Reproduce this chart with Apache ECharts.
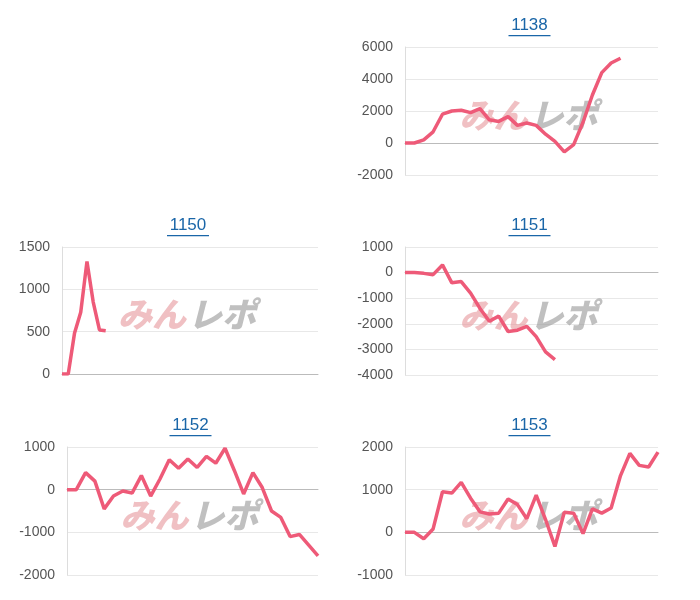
<!DOCTYPE html>
<html><head><meta charset="utf-8">
<script src="https://cdn.jsdelivr.net/npm/echarts@6/dist/echarts.min.js"></script>
<style>html,body{margin:0;background:#fff}#c{width:700px;height:600px}</style>
</head><body><div id="c"></div>
<script>
var chart = echarts.init(document.getElementById("c"));

const days = Array.from({ length: 28 }, (_, i) => String(i + 1));
const days1150 = Array.from({ length: 42 }, (_, i) => String(i + 1));
const titles = ["1138", "1150", "1151", "1152", "1153"];
const v1138 = [0, 0, 200, 700, 1800, 2000, 2050, 1900, 2150, 1450, 1350, 1650, 1100, 1250, 1100, 550, 100, -550, -100, 1300, 3000, 4400, 5000, 5300];
const v1150 = [0, 0, 480, 730, 1330, 850, 520, 510];
const v1151 = [0, 0, -30, -80, 300, -400, -350, -800, -1400, -1900, -1700, -2300, -2250, -2100, -2500, -3100, -3400];
const v1152 = [0, 0, 400, 200, -450, -150, -30, -80, 330, -150, 250, 700, 500, 720, 520, 780, 620, 970, 450, -100, 400, 50, -500, -650, -1100, -1050, -1300, -1550];
const v1153 = [0, 0, -150, 80, 950, 920, 1170, 800, 480, 430, 450, 780, 650, 320, 870, 300, -330, 470, 450, -30, 550, 450, 570, 1330, 1850, 1570, 1530, 1880];
const yRanges = [[-2000, 6000, 2000], [0, 1500, 500], [-4000, 1000, 1000], [-2000, 1000, 1000], [-1000, 2000, 1000]];
const allValues = [v1138, v1150, v1151, v1152, v1153];
const allDays = [days, days1150, days, days, days];

// panel boxes: left, top, right edge, bottom
const boxes = [[405, 47, 658, 175], [62, 247, 318, 374], [405, 247, 658, 375], [67, 447, 318, 575], [405, 447, 658, 575]];

var grid = [], xAxis = [], yAxis = [], series = [], graphic = [];
boxes.forEach(function (b, i) {
  grid.push({ left: b[0], top: b[1], width: b[2] - b[0], height: b[3] - b[1] });
  xAxis.push({
    gridIndex: i, type: "category", data: allDays[i], boundaryGap: false,
    axisLine: { onZero: true, lineStyle: { color: "#bbb" } },
    axisTick: { show: false }, axisLabel: { show: false }
  });
  yAxis.push({
    gridIndex: i, type: "value", min: yRanges[i][0], max: yRanges[i][1], interval: yRanges[i][2],
    axisLine: { show: true, lineStyle: { color: "#ddd" } },
    axisTick: { show: false },
    axisLabel: { color: "#555", fontSize: 14, fontFamily: "Arial, Liberation Sans", margin: 12, formatter: function (v) { return String(v); } },
    splitLine: { lineStyle: { color: "#e8e8e8" } }
  });
  series.push({
    type: "line", xAxisIndex: i, yAxisIndex: i, data: allValues[i], showSymbol: false,
    lineStyle: { color: "#ee5a78", width: 3.5 }, z: 3
  });
  var cx = (b[0] + b[2]) / 2 - 2;
  graphic.push({
    type: "text", x: cx, y: b[1] - 22,
    style: { text: titles[i], fill: "#1a66a8", font: "17px Arial, 'Liberation Sans'", align: "center", verticalAlign: "middle" }
  });
  graphic.push({ type: "rect", shape: { x: cx - 21, y: b[1] - 12, width: 42, height: 1.3 }, style: { fill: "#1a66a8" } });
  var wx = cx + 2, wy = (b[1] + b[3]) / 2 + 4;
  graphic.push({
    type: "text", x: wx - 4, y: wy, z: 1,
    style: { text: "みん", fill: "rgba(230,150,155,0.6)", font: "italic 900 34px 'Noto Sans CJK JP'", align: "right", verticalAlign: "middle" }
  });
  graphic.push({
    type: "text", x: wx - 2, y: wy, z: 1,
    style: { text: "レポ", fill: "rgba(150,150,150,0.6)", font: "italic 900 34px 'Noto Sans CJK JP'", align: "left", verticalAlign: "middle" }
  });
});

chart.setOption({ animation: false, grid: grid, xAxis: xAxis, yAxis: yAxis, series: series, graphic: graphic });
</script></body></html>
